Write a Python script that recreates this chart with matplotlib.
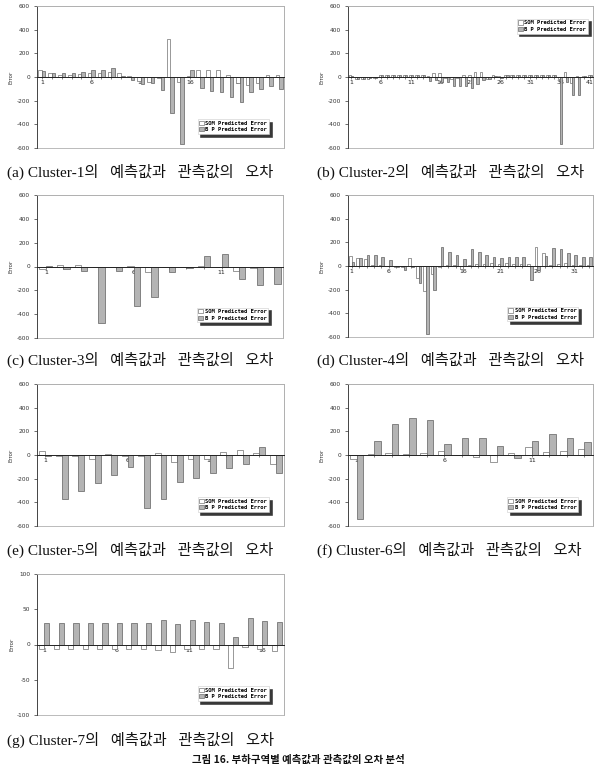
import matplotlib
matplotlib.use('Agg')
import matplotlib.pyplot as plt
from matplotlib.patches import Patch, Rectangle
import numpy as np

# ---- data ----
a_som = [55, 35, 20, 20, 25, 30, 30, 40, 35, 5, -30, -40, -5, 320, -40, 10, 60, 60, 60, 15, -50, -70, -50, 15, 20]
a_bp = [50, 35, 30, 35, 40, 55, 60, 75, 5, -25, -60, -50, -110, -300, -565, 55, -90, -120, -130, -170, -210, -125, -105, -75, -100]

b_som = [20, -15, -15, -15, -10, 20, 15, 15, 15, 15, 15, 15, 15, 10, 30, 30, -10, -20, -10, 20, 20, 45, 45, -20, 15,
         5, 20, 15, 15, 15, 15, 15, 15, 15, 15, -20, 45, -50, 5, 5, 20]
b_bp = [5, -15, -15, -10, -5, 20, 15, 15, 15, 15, 15, 15, 15, -35, -25, -40, -45, -80, -80, -80, -90, -55, -25, -15, 5,
        -10, 15, 15, 15, 15, 15, 15, 15, 15, 15, -570, -40, -150, -150, 10, 15]

c_som = [-20, 15, 10, -5, -5, 5, -45, -3, -5, 2, -5, -40, -10, -5]
c_bp = [5, -20, -35, -475, -40, -335, -260, -45, -10, 85, 105, -105, -155, -145]

d_som = [85, 70, 60, 10, 5, 0, -5, -10, 70, -100, -210, -70, -10, 5, 5, -25, 5, 20, 20, 25, 20, 25, 20, 20, 15,
         160, 110, 10, 20, 25, 5, 5, 5]
d_bp = [30, 70, 90, 90, 75, 50, -5, -35, -10, -145, -575, -200, 160, 115, 95, 60, 145, 115, 95, 75, 65, 75, 80, 75,
        -115, -30, 85, 155, 140, 110, 90, 80, 75]

e_som = [30, -5, -5, -35, 5, -5, -5, 20, -60, -35, -35, 25, 40, 15, -80]
e_bp = [-10, -370, -305, -240, -165, -100, -445, -375, -225, -195, -155, -110, -80, 70, -155]

f_som = [-30, 5, 15, 10, 20, 30, 2, -15, -60, 15, 65, 25, 35, 50]
f_bp = [-545, 120, 260, 315, 300, 95, 145, 145, 75, -25, 115, 180, 145, 110]

g_som = [-7, -7, -7, -7, -6, -6, -6, -7, -8, -10, -6, -6, -7, -33, -4, -7, -9]
g_bp = [31, 31, 31, 31, 31, 31, 31, 30, 35, 29, 35, 32, 30, 11, 37, 33, 32]

captions = ['(a) Cluster-1의   예측값과   관측값의   오차', '(b) Cluster-2의   예측값과   관측값의   오차',
            '(c) Cluster-3의   예측값과   관측값의   오차', '(d) Cluster-4의   예측값과   관측값의   오차',
            '(e) Cluster-5의   예측값과   관측값의   오차', '(f) Cluster-6의   예측값과   관측값의   오차',
            '(g) Cluster-7의   예측값과   관측값의   오차']
fig_title = '그림 16. 부하구역별 예측값과 관측값의 오차 분석'
legend_labels = ['SOM Predicted Error', 'B P Predicted Error']

W, H = 599, 766
fig = plt.figure(figsize=(W / 100, H / 100), dpi=100)
fig.patch.set_facecolor('white')

SOM_C = 'white'
BP_C = '#b4b4b4'


def panel(box, som, bp, ylim, yticks, leg_loc, leg_anchor):
    l, t, r, b = box
    ax = fig.add_axes([l / W, 1 - b / H, (r - l) / W, (b - t) / H])
    n = len(som)
    x = np.arange(1, n + 1)
    w = 0.36
    ax.bar(x - w / 2, som, w, color=SOM_C, edgecolor='#707070', linewidth=0.5, zorder=2)
    ax.bar(x + w / 2, bp, w, color=BP_C, edgecolor='#606060', linewidth=0.5, zorder=2)
    ax.set_xlim(0.5, n + 0.5)
    ax.set_ylim(*ylim)
    ax.set_yticks(yticks)
    ax.set_yticklabels([str(v) for v in yticks])
    ax.tick_params(axis='y', labelsize=4.2, length=2, width=0.5, pad=3, colors='#333333')
    ax.set_xticks(x)
    ax.set_xticklabels([str(i) if (i - 1) % 5 == 0 else '' for i in x])
    ax.tick_params(axis='x', labelsize=4.5, length=1.5, width=0.4, pad=1, colors='#222222')
    ax.spines['bottom'].set_position(('data', 0))
    ax.spines['bottom'].set_linewidth(0.7)
    ax.spines['bottom'].set_color('#222222')
    ax.spines['left'].set_linewidth(0.6)
    ax.spines['left'].set_color('#333333')
    for s in ['top', 'right']:
        ax.spines[s].set_color('#b0b0b0')
        ax.spines[s].set_linewidth(0.6)
    ax.add_patch(Rectangle((0, 0), 1, 1, transform=ax.transAxes, fill=False,
                           ec='#b0b0b0', lw=0.6, clip_on=False, zorder=0))
    ax.set_ylabel('Error', fontsize=4, labelpad=2, color='#333333')
    handles = [Patch(facecolor=SOM_C, edgecolor='#555555', linewidth=0.4),
               Patch(facecolor=BP_C, edgecolor='#555555', linewidth=0.4)]
    leg = ax.legend(handles, legend_labels, loc=leg_loc, bbox_to_anchor=leg_anchor,
                    prop={'family': 'DejaVu Sans Mono', 'size': 4, 'weight': 'bold'},
                    handlelength=0.8, handleheight=0.8, handletextpad=0.3,
                    borderpad=0.3, labelspacing=0.25, fancybox=False,
                    shadow={'color': '#222222', 'alpha': 0.9}, framealpha=1)
    leg.get_frame().set_edgecolor('#cccccc')
    leg.get_frame().set_linewidth(0.4)
    return ax


big = [600, 400, 200, 0, -200, -400, -600]
panel((37, 6, 284, 148), a_som, a_bp, (-600, 600), big, 'lower right', (0.95, 0.08))
panel((348, 6, 593, 148), b_som, b_bp, (-600, 600), big, 'upper right', (0.99, 0.93))
panel((37, 195, 283, 338), c_som, c_bp, (-600, 600), big, 'lower right', (0.95, 0.09))
panel((348, 195, 593, 337), d_som, d_bp, (-600, 600), big, 'lower right', (0.95, 0.09))
panel((37, 384, 284, 526), e_som, e_bp, (-600, 600), big, 'lower right', (0.95, 0.08))
panel((348, 384, 593, 526), f_som, f_bp, (-600, 600), big, 'lower right', (0.95, 0.08))
panel((37, 574, 284, 715), g_som, g_bp, (-100, 100), [100, 50, 0, -50, -100], 'lower right', (0.95, 0.08))

cap_font = ['Liberation Serif', 'Noto Sans CJK KR']
cap_pos = [(7, 172), (317, 172), (7, 360), (317, 360), (7, 550), (317, 550), (7, 740)]
for (cx, cy), txt in zip(cap_pos, captions):
    fig.text(cx / W, 1 - cy / H, txt, family=cap_font, fontsize=11, ha='left', va='center', color='#111111')

fig.text(298 / W, 1 - 765 / H, fig_title, family=['Noto Sans CJK KR', 'DejaVu Sans'], fontsize=7.5,
         fontweight='bold', ha='center', va='bottom', color='#111111')

fig.savefig('out.png', dpi=100)
